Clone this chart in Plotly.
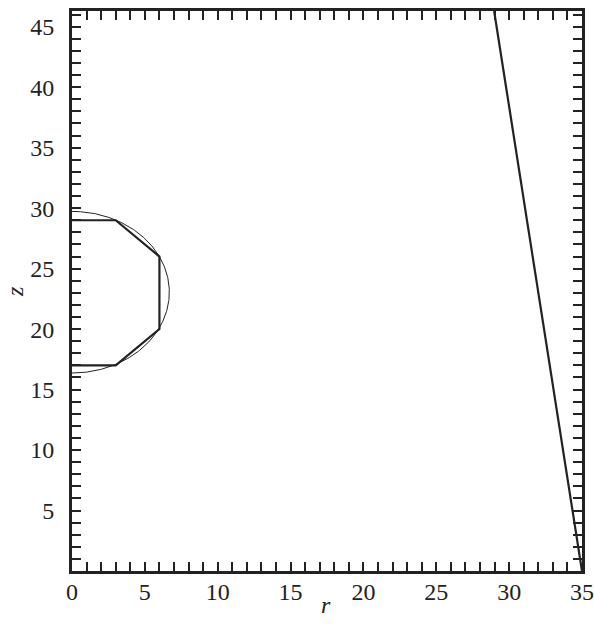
import numpy as np
import plotly.graph_objects as go

# Polygon (thick line) vertices
poly_r = [0, 3, 6, 6, 3, 0]
poly_z = [29, 29, 26, 20, 17, 17]

# Circle (thin line) parameters
circle_center_r = 0.0
circle_center_z = 23.05
circle_radius = 6.68

# Slanted line endpoints
slant_r = [35, 28.97]
slant_z = [0, 46.3]

x_range = [0, 35]
y_range = [0, 46.3]
x_tick_labels = [0, 5, 10, 15, 20, 25, 30, 35]
y_tick_labels = [5, 10, 15, 20, 25, 30, 35, 40, 45]
x_title = "<i>r</i>"
y_title = "<i>z</i>"

fig = go.Figure()

theta = np.linspace(-np.pi / 2, np.pi / 2, 181)
fig.add_trace(go.Scatter(
    x=circle_center_r + circle_radius * np.cos(theta),
    y=circle_center_z + circle_radius * np.sin(theta),
    mode="lines", line=dict(color="#222222", width=1),
    hoverinfo="skip", showlegend=False, cliponaxis=True))

fig.add_trace(go.Scatter(
    x=poly_r, y=poly_z, mode="lines",
    line=dict(color="#222222", width=2.2),
    showlegend=False))

fig.add_trace(go.Scatter(
    x=slant_r, y=slant_z, mode="lines",
    line=dict(color="#222222", width=2.2),
    showlegend=False))

x_ticks = list(range(0, 36))
y_ticks = list(range(0, 47))
font_family = "Times New Roman, Times, Liberation Serif, Tinos, serif"

fig.update_layout(
    width=594, height=625,
    margin=dict(l=72, r=12, t=11, b=54),
    plot_bgcolor="white", paper_bgcolor="white",
    font=dict(family=font_family, size=24, color="#222222"),
    xaxis=dict(
        range=x_range, showgrid=False, zeroline=False, automargin=False,
        showline=True, linewidth=3, linecolor="#222222", mirror="allticks",
        ticks="inside", ticklen=9, tickwidth=1.6, tickcolor="#222222",
        tickvals=x_ticks,
        ticktext=[str(v) if v in x_tick_labels else "" for v in x_ticks],
        tickfont=dict(family=font_family, size=24),
        ticklabelstandoff=-3,
    ),
    yaxis=dict(
        range=y_range, showgrid=False, zeroline=False, automargin=False,
        showline=True, linewidth=3, linecolor="#222222", mirror="allticks",
        ticks="inside", ticklen=9, tickwidth=1.6, tickcolor="#222222",
        tickvals=y_ticks,
        ticktext=[str(v) if v in y_tick_labels else "" for v in y_ticks],
        tickfont=dict(family=font_family, size=24),
        ticklabelstandoff=10,
    ),
    annotations=[
        dict(text=x_title, xref="paper", yref="paper", x=0.498, y=-0.0607,
             showarrow=False, xanchor="center", yanchor="middle",
             font=dict(family=font_family, size=24)),
        dict(text=y_title, xref="paper", yref="paper", x=-0.1118, y=0.5,
             showarrow=False, xanchor="center", yanchor="middle", textangle=-90,
             font=dict(family=font_family, size=24)),
    ],
)

fig.write_html("out.html")
